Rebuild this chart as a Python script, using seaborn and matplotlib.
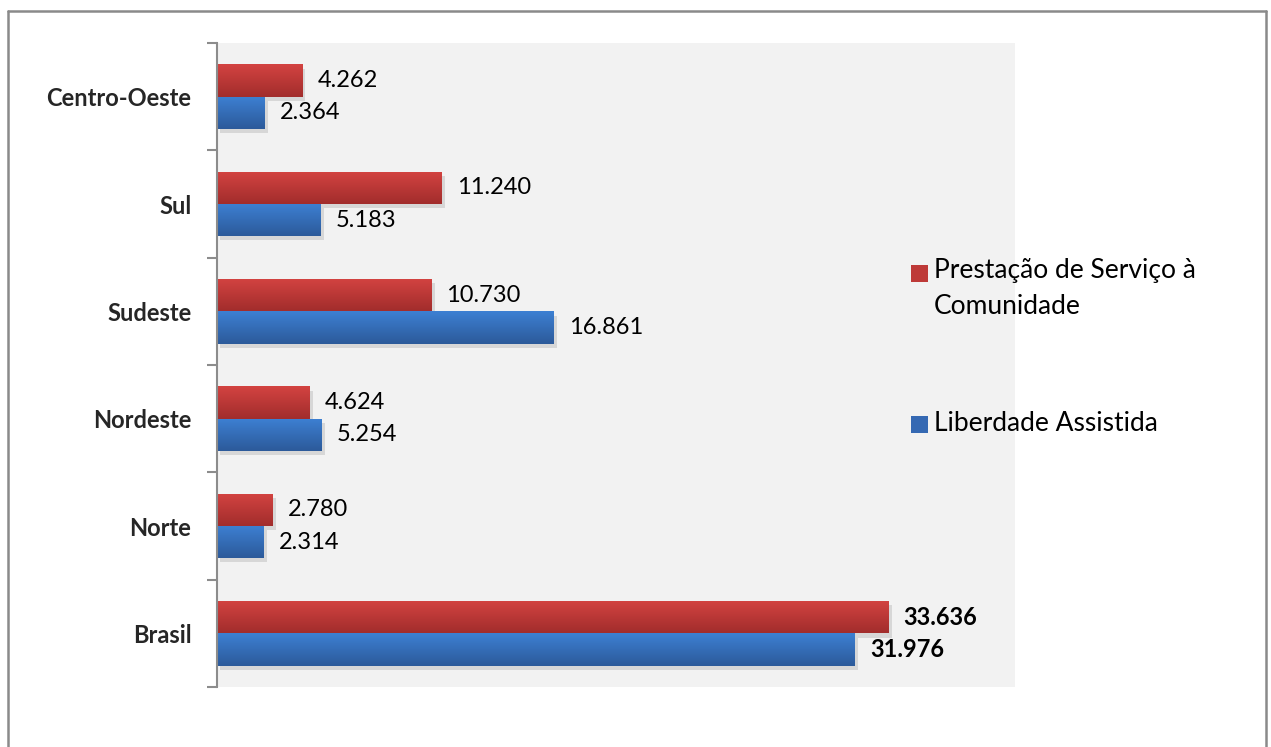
import numpy as np
import pandas as pd
import matplotlib
matplotlib.use("Agg")
import matplotlib.pyplot as plt
import matplotlib.patheffects as pe
from matplotlib.patches import Rectangle
from matplotlib.lines import Line2D
from matplotlib.colors import LinearSegmentedColormap
import seaborn as sns

regions = ["Centro-Oeste", "Sul", "Sudeste", "Nordeste", "Norte", "Brasil"]
psc_values = [4262, 11240, 10730, 4624, 2780, 33636]
la_values = [2364, 5183, 16861, 5254, 2314, 31976]
series_names = ["Prestação de Serviço à Comunidade", "Liberdade Assistida"]

sns.set_theme(style="white")
plt.rcParams["font.family"] = ["Lato", "DejaVu Sans"]

df = pd.DataFrame({
    "regiao": regions * 2,
    "medida": [series_names[0]] * len(regions) + [series_names[1]] * len(regions),
    "valor": psc_values + la_values,
})

RED = "#be3a38"
BLUE = "#3569b3"
grad_red = LinearSegmentedColormap.from_list("r", ["#d34341", "#a22d2c"])
grad_blue = LinearSegmentedColormap.from_list("b", ["#3d80d3", "#2c5a9a"])

fig = plt.figure(figsize=(12.71, 7.47), dpi=100)
ax = fig.add_axes([217 / 1271, 1 - 687 / 747, (1015 - 217) / 1271, (687 - 43) / 747])
ax.set_facecolor("#f2f2f2")

sns.barplot(data=df, y="regiao", x="valor", hue="medida", order=regions,
            hue_order=series_names, palette=[RED, BLUE], orient="h",
            width=0.6, gap=0, legend=False, ax=ax, errorbar=None,
            linewidth=0, saturation=1)

# gradient fill and soft drop shadow on each bar
for i, bar in enumerate(ax.patches):
    cmap = grad_red if i < len(regions) else grad_blue
    x0, y0 = bar.get_x(), bar.get_y()
    w, h = bar.get_width(), bar.get_height()
    bar.set_path_effects([pe.SimplePatchShadow(offset=(2.5, -3), shadow_rgbFace="#888888", alpha=0.25),
                          pe.Normal()])
    grad = np.linspace(0, 1, 64).reshape(-1, 1)
    im = ax.imshow(grad, cmap=cmap, aspect="auto", extent=(x0, x0 + w, y0 + h, y0),
                   origin="upper", zorder=bar.get_zorder() + 0.1)
    im.set_clip_path(bar)

ax.set_xlim(0, 40000)
ax.set_ylim(len(regions) - 0.5, -0.5)

# value labels at the bar ends
n = len(regions)
for i, bar in enumerate(ax.patches):
    val = bar.get_width()
    bold = regions[i % n] == "Brasil"
    txt = f"{int(val):,}".replace(",", ".")
    ax.annotate(txt, (val, bar.get_y() + bar.get_height() / 2), xytext=(11, 0),
                textcoords="offset points", va="center", ha="left",
                fontsize=17, fontweight="bold" if bold else "normal", color="black",
                zorder=5)

# axes styling
for s in ["top", "right", "bottom"]:
    ax.spines[s].set_visible(False)
ax.spines["left"].set_color("#8c8c8c")
ax.spines["left"].set_linewidth(1.5)
ax.set_xticks([])
ax.set_xlabel("")
ax.set_ylabel("")
ax.set_yticks(range(n))
ax.set_yticklabels(regions, fontsize=17, fontweight="bold")
ax.tick_params(axis="y", which="major", left=False, length=0, pad=18.5)
ax.set_yticks(np.arange(-0.5, n, 1.0), minor=True)
ax.tick_params(axis="y", which="minor", left=True, length=7, width=1.5, color="#8c8c8c")

# legend
legend_items = [("Prestação de Serviço à\nComunidade", RED, 273.5, 258), ("Liberdade Assistida", BLUE, 424, 411)]
for label, col, ypix, ytext in legend_items:
    fig.patches.append(Rectangle((911 / 1271, 1 - (ypix + 8.5) / 747), 17 / 1271, 17 / 747,
                                 transform=fig.transFigure, facecolor=col, edgecolor="none"))
    fig.text(934 / 1271, 1 - ytext / 747, label, fontsize=19, va="top", ha="left",
             linespacing=1.55, color="black")

# outer frame
frame_col = "#8a8a8a"
fig.add_artist(Line2D([8 / 1271, 8 / 1271], [0, 1 - 10.5 / 747], transform=fig.transFigure,
                      color=frame_col, lw=1.8))
fig.add_artist(Line2D([8 / 1271, 1265.5 / 1271], [1 - 10.5 / 747, 1 - 10.5 / 747],
                      transform=fig.transFigure, color=frame_col, lw=1.8))
fig.add_artist(Line2D([1265.5 / 1271, 1265.5 / 1271], [0, 1 - 10.5 / 747], transform=fig.transFigure,
                      color=frame_col, lw=1.8))

fig.savefig("out.png", dpi=100, facecolor="white")
